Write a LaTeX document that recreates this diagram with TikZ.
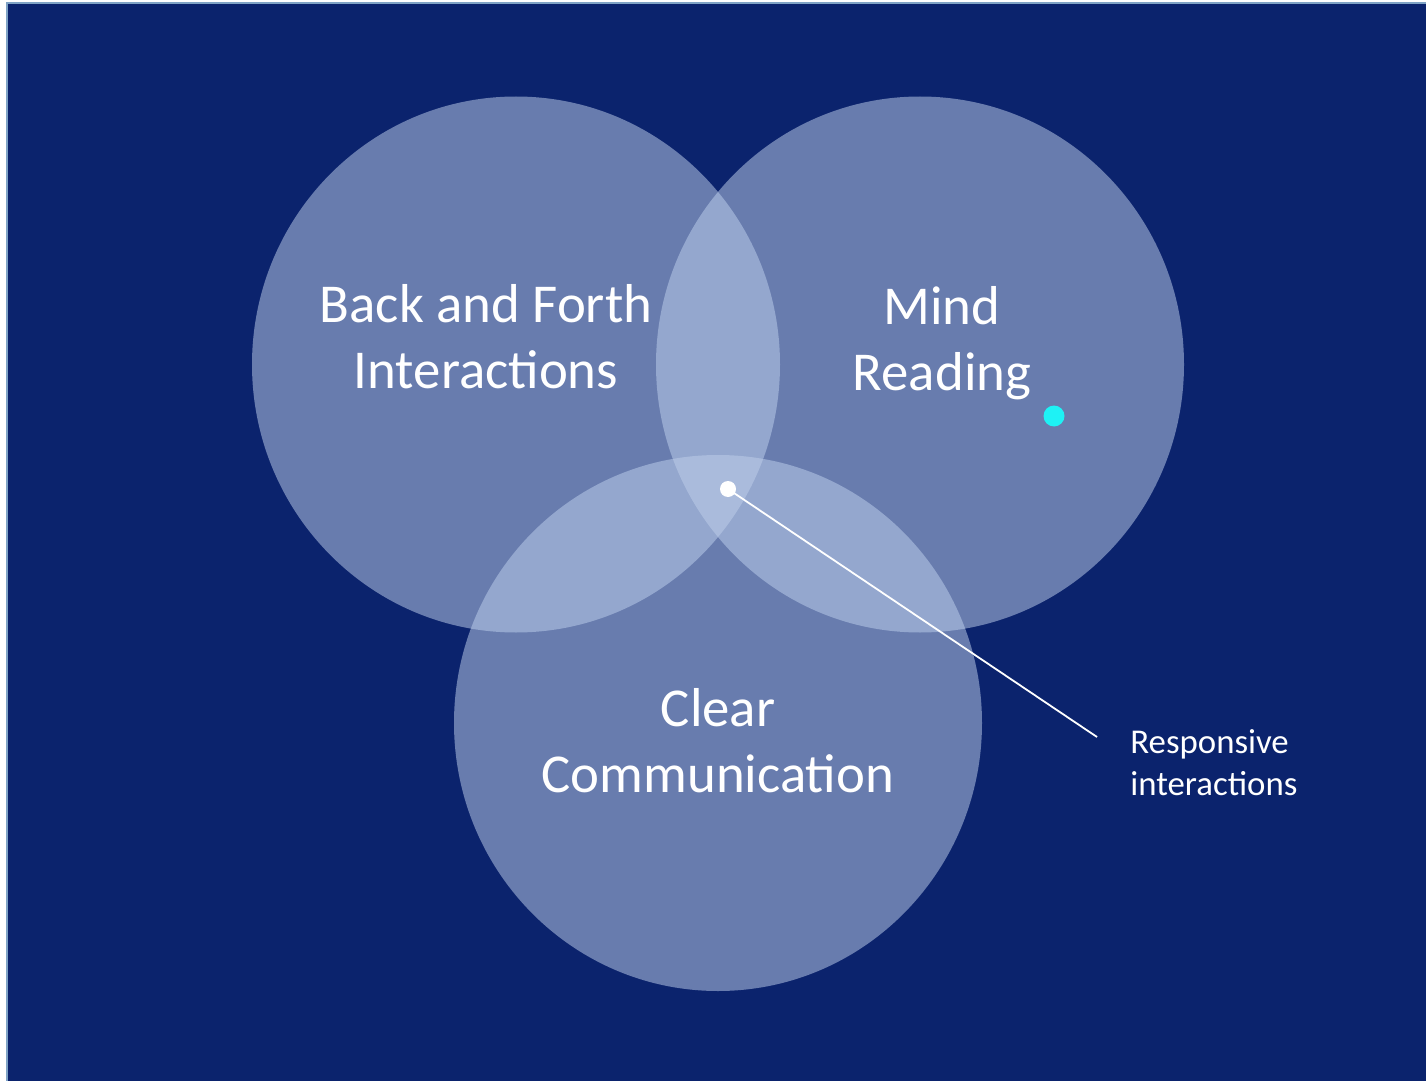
\documentclass[tikz,border=0pt]{standalone}
\usepackage{fontspec}
\setmainfont{Carlito}
\definecolor{navy}{HTML}{0B236D}
\definecolor{frame}{HTML}{7FA3C6}
\definecolor{one}{HTML}{687CAE}
\definecolor{two}{HTML}{94A7CE}
\definecolor{three}{HTML}{AABBDC}
\definecolor{cyandot}{HTML}{1EF2F5}
\tikzset{
  bigtext/.style={text=white, font=\fontsize{27.4}{33}\selectfont, align=center},
  smalltext/.style={text=white, font=\fontsize{17.4}{21}\selectfont, align=left, anchor=north west, inner sep=0pt},
}
\begin{document}
\begin{tikzpicture}[x=0.5pt,y=-0.5pt]
\useasboundingbox (0,0) rectangle (1426,1081);
\fill[white] (0,0) rectangle (1426,1081);
\fill[frame] (6,2) rectangle (1426,1081);
\fill[navy] (8,4) rectangle (1426,1081);
\def\cA{(516,364.5) ellipse [x radius=264, y radius=268]}
\def\cB{(920,364.5) ellipse [x radius=264, y radius=268]}
\def\cC{(718,723) ellipse [x radius=264, y radius=268]}
\fill[one] \cA;
\fill[one] \cB;
\fill[one] \cC;
\begin{scope}\clip \cA; \fill[two] \cB; \fill[two] \cC; \end{scope}
\begin{scope}\clip \cB; \fill[two] \cC; \end{scope}
\begin{scope}\clip \cA; \clip \cB; \fill[three] \cC; \end{scope}
\node[bigtext] (bf) at (486,337) {Back and Forth\\Interactions};
\node[bigtext] (mr) at (942,343) {Mind\\Reading};
\node[bigtext] (cc) at (718,741) {Clear\\Communication};
\node[circle, fill=white, minimum size=8pt, inner sep=0pt] (dot) at (728,489) {};
\node[circle, fill=cyandot, minimum size=10.5pt, inner sep=0pt] (cdot) at (1054,416) {};
\coordinate (lend) at (1097,737);
\draw[white, line width=0.9pt] (dot.center) -- (lend);
\node[smalltext] (lbl) at (1130,729) {Responsive\\interactions};
\end{tikzpicture}
\end{document}
